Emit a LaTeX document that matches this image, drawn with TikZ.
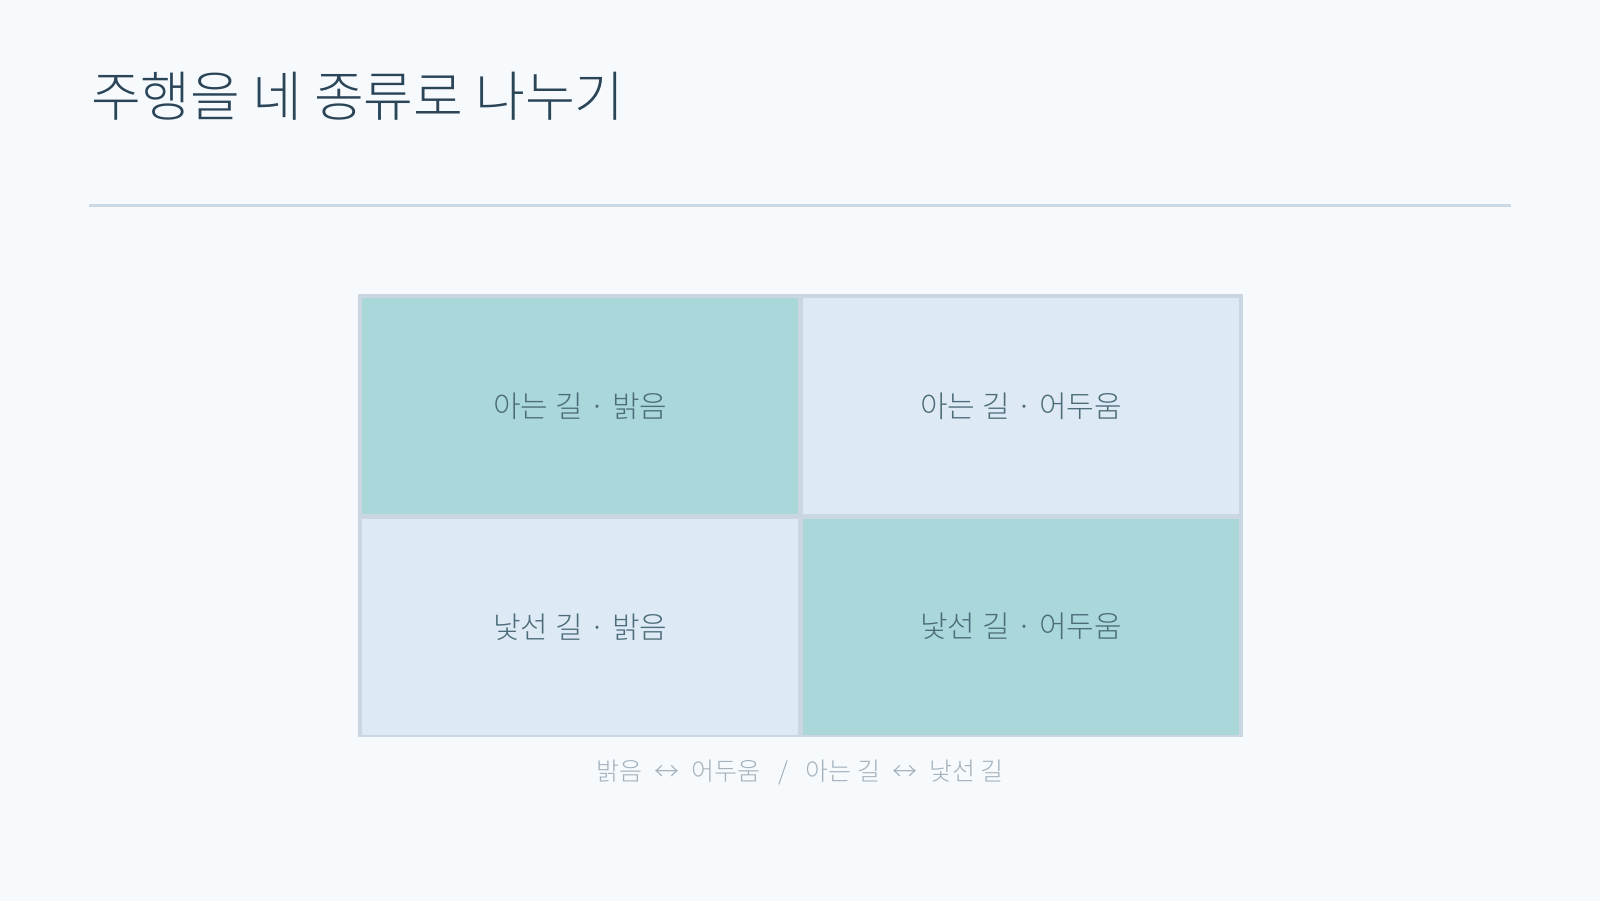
\documentclass[tikz,border=0pt]{standalone}
\usepackage{fontspec}
\IfFontExistsTF{Noto Sans CJK KR Light}
  {\newfontfamily\krl{Noto Sans CJK KR Light}}
  {\newfontfamily\krl{Noto Sans CJK KR}}
\definecolor{bg}{HTML}{F7FAFC}
\definecolor{rulec}{HTML}{CBD9E5}
\definecolor{gridc}{HTML}{CAD7E2}
\definecolor{teal}{HTML}{AAD7DA}
\definecolor{pale}{HTML}{DDE9F4}
\definecolor{titlec}{HTML}{2B4558}
\definecolor{cellc}{HTML}{4D6C7A}
\definecolor{capc}{HTML}{A3B1BC}
\tikzset{
  cellbox/.style={draw=none, inner sep=0pt, minimum width=435.7pt, minimum height=216.3pt, font=\krl\fontsize{30}{34}\selectfont, text=cellc},
}
\begin{document}
\begin{tikzpicture}[x=1.0204pt,y=-1.0204pt]
\fill[bg] (0,0) rectangle (1568,883);
\useasboundingbox (0,0) rectangle (1568,883);
\node[anchor=base west, inner sep=0pt, text=titlec, font=\krl\fontsize{54.1}{60}\selectfont] (title) at (89,114) {주행을 네 종류로 나누기};
\coordinate (rl) at (87,201);
\coordinate (rr) at (1481,201);
\draw[rulec, line width=3pt] (rl) -- (rr);
\fill[gridc] (351,288) rectangle (1218,722);
\node[cellbox, fill=teal, anchor=north west] (tl) at (355,292) {아는 길 · 밝음};
\node[cellbox, fill=pale, anchor=north west] (tr) at (787,292) {아는 길 · 어두움};
\node[cellbox, fill=pale, anchor=north west] (bl) at (355,508) {낯선 길 · 밝음};
\node[cellbox, fill=teal, anchor=north west] (br) at (787,508) {낯선 길 · 어두움};
\node[anchor=center, inner sep=0pt, text=capc, font=\krl\fontsize{25}{28}\selectfont] (cap) at (784,757) {밝음\hspace{12pt}↔\hspace{12pt}어두움\hspace{18pt}/\hspace{18pt}아는 길\hspace{12pt}↔\hspace{12pt}낯선 길};
\end{tikzpicture}
\end{document}
